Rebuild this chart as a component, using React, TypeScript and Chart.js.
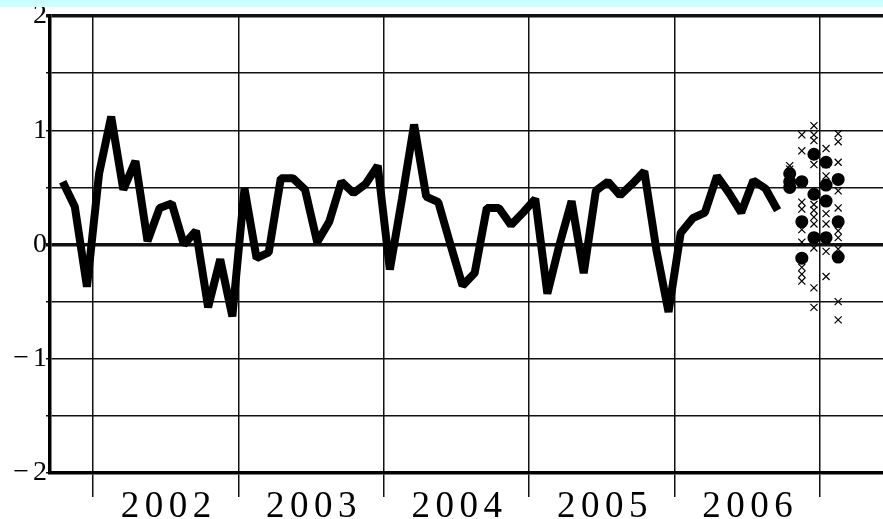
import React, { useEffect, useRef } from 'react';
import { Chart, registerables } from 'chart.js';

Chart.register(...registerables);

// Time axis in months counted from 1 Jan 2002; each monthly value sits at mid-month.
const firstMonth = -2.5; // Oct 2001
const observed = [
  0.55, 0.33, -0.37,
  0.62, 1.12, 0.48, 0.73, 0.03, 0.32, 0.36, 0.0, 0.12, -0.55, -0.13, -0.63,
  0.49, -0.12, -0.07, 0.58, 0.58, 0.48, 0.02, 0.2, 0.55, 0.45, 0.53, 0.69,
  -0.22, 0.4, 1.05, 0.42, 0.37, 0.0, -0.36, -0.25, 0.32, 0.32, 0.17, 0.28,
  0.4, -0.43, 0.0, 0.38, -0.25, 0.47, 0.55, 0.43, 0.53, 0.64, -0.05, -0.59,
  0.1, 0.23, 0.28, 0.6, 0.45, 0.28, 0.56, 0.49, 0.3,
];

// Forecast months: Oct 2006, Nov 2006, Dec 2006, Jan 2007, Feb 2007
const forecastMonths = [57.5, 58.5, 59.5, 60.5, 61.5];
const forecastDots = [
  [0.62, 0.55, 0.5],
  [0.55, 0.2, -0.12],
  [0.79, 0.44, 0.06],
  [0.72, 0.52, 0.38, 0.06],
  [0.57, 0.2, -0.11],
];
const forecastCrosses = [
  [0.69, 0.66],
  [0.96, 0.82, 0.37, 0.31, 0.13, 0.02, -0.2, -0.26, -0.32],
  [1.04, 0.96, 0.91, 0.7, 0.35, 0.3, 0.24, 0.18, -0.03, -0.38, -0.55],
  [0.84, 0.7, 0.6, 0.27, 0.18, -0.06, -0.28],
  [0.97, 0.9, 0.72, 0.47, 0.32, 0.12, 0.06, -0.04, -0.5, -0.66],
];

const yearBoundaryTicks = [0, 12, 24, 36, 48, 60];
const yearLabelTicks = [6, 18, 30, 42, 54];
const yearLabels = ['2002', '2003', '2004', '2005', '2006'];
const yTickValues = [-2, -1, 0, 1, 2];
const yTickLabels = ['\u22122', '\u22121', '0', '1', '2'];

const xMin = -3.55;
const xMax = 65.2;

export default function App() {
  const canvasRef = useRef<HTMLCanvasElement | null>(null);

  useEffect(() => {
    const canvas = canvasRef.current;
    if (!canvas) return;

    const lineData = observed.map((v, i) => ({ x: firstMonth + i, y: v }));
    const dotData = forecastMonths.flatMap((m, i) => forecastDots[i].map((v) => ({ x: m, y: v })));
    const crossData = forecastMonths.flatMap((m, i) => forecastCrosses[i].map((v) => ({ x: m, y: v })));

    const paintPlugin = {
      id: 'paint',
      beforeDraw(chart: any) {
        const ctx = chart.ctx;
        ctx.save();
        ctx.fillStyle = '#ffffff';
        ctx.fillRect(0, 0, chart.width, chart.height);
        ctx.restore();
        ctx.letterSpacing = '5.5px';
      },
      afterDatasetsDraw(chart: any) {
        chart.ctx.letterSpacing = '4px';
      },
      afterDraw(chart: any) {
        const ctx = chart.ctx;
        ctx.letterSpacing = '0px';
        ctx.save();
        ctx.fillStyle = '#ccffff';
        ctx.fillRect(0, 0, chart.width, 7);
        ctx.restore();
      },
    };

    const chart = new Chart(canvas, {
      type: 'line',
      data: {
        datasets: [
          {
            data: lineData,
            borderColor: '#000',
            borderWidth: 8,
            borderJoinStyle: 'bevel',
            pointRadius: 0,
            tension: 0,
            fill: false,
          },
          {
            type: 'scatter',
            data: dotData,
            pointStyle: 'circle',
            pointRadius: 6.5,
            backgroundColor: '#000',
            borderColor: '#000',
            borderWidth: 0,
            showLine: false,
          },
          {
            type: 'scatter',
            data: crossData,
            pointStyle: 'crossRot',
            pointRadius: 5,
            borderColor: '#000',
            borderWidth: 1.2,
            showLine: false,
          },
        ],
      } as any,
      options: {
        animation: false,
        responsive: true,
        maintainAspectRatio: false,
        events: [],
        layout: { padding: 0, autoPadding: false },
        plugins: { legend: { display: false }, tooltip: { enabled: false } },
        scales: {
          x: {
            type: 'linear',
            min: xMin,
            max: xMax,
            afterBuildTicks: (scale: any) => {
              scale.ticks = [...yearBoundaryTicks, ...yearLabelTicks]
                .sort((a, b) => a - b)
                .map((v) => ({ value: v }));
            },
            afterFit: (scale: any) => {
              scale.height = 46;
              scale.paddingLeft = 0;
              scale.paddingRight = 0;
            },
            ticks: {
              autoSkip: false,
              maxRotation: 0,
              minRotation: 0,
              padding: -8,
              labelOffset: 3,
              color: '#000',
              font: { family: 'Liberation Serif', size: 37, lineHeight: 1 },
              callback: (v: any) => {
                const i = yearLabelTicks.indexOf(Number(v));
                return i >= 0 ? yearLabels[i] : '';
              },
            },
            grid: {
              drawOnChartArea: true,
              drawTicks: true,
              tickLength: 24,
              color: (ctx: any) =>
                ctx.tick && yearBoundaryTicks.includes(ctx.tick.value) ? '#111' : 'rgba(0,0,0,0)',
              lineWidth: 1.5,
            },
            border: { display: true, color: '#000', width: 3.5 },
          },
          y: {
            type: 'linear',
            min: -2,
            max: 2,
            afterFit: (scale: any) => {
              scale.width = 50;
              scale.paddingTop = 16;
              scale.paddingBottom = 0;
            },
            ticks: {
              stepSize: 0.5,
              autoSkip: false,
              padding: -5,
              z: 1,
              color: '#000',
              font: { family: 'Liberation Serif', size: 28, lineHeight: 1 },
              callback: (v: any) => {
                const i = yTickValues.indexOf(Number(v));
                return i >= 0 ? yTickLabels[i] : '';
              },
            },
            grid: {
              drawTicks: true,
              tickLength: 4,
              color: '#111',
              lineWidth: (ctx: any) =>
                ctx.tick && (ctx.tick.value === 0 || ctx.tick.value === 2) ? 3.5 : 1.5,
            },
            border: { display: true, color: '#000', width: 3.5 },
          },
        },
      } as any,
      plugins: [paintPlugin],
    });

    return () => chart.destroy();
  }, []);

  return (
    <div
      style={{
        position: 'fixed',
        left: 0,
        top: 0,
        width: 883,
        height: 519,
        overflow: 'hidden',
        background: '#fff',
      }}
    >
      <canvas ref={canvasRef} />
    </div>
  );
}
